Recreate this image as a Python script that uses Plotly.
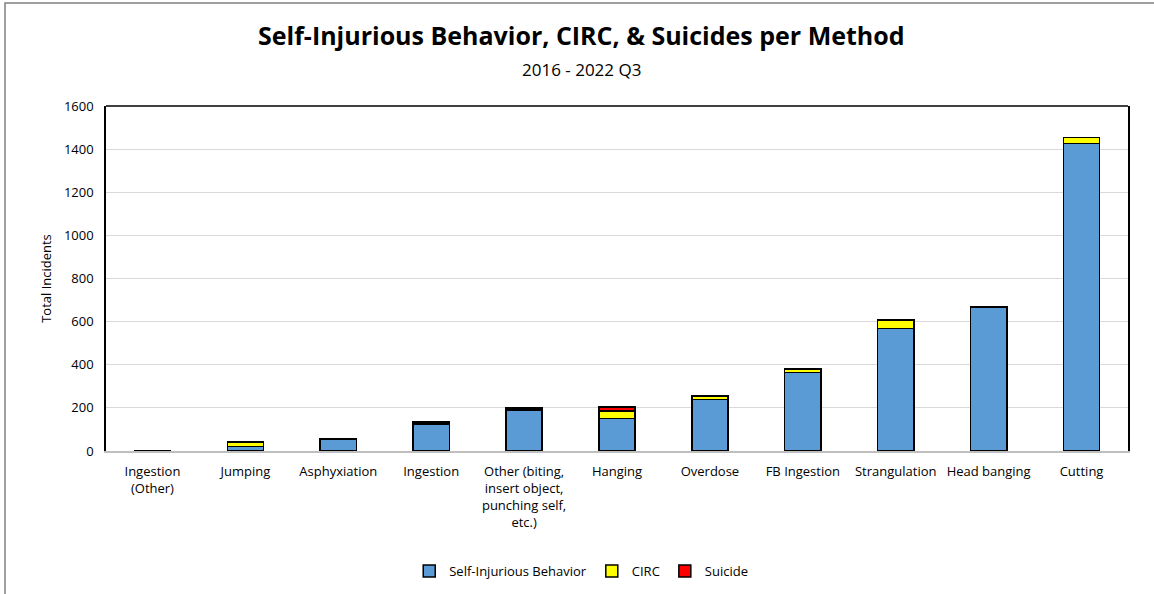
import plotly.graph_objects as go

categories = ["Ingestion<br>(Other)", "Jumping", "Asphyxiation", "Ingestion",
              "Other (biting,<br>insert object,<br>punching self,<br>etc.)", "Hanging",
              "Overdose", "FB Ingestion", "Strangulation", "Head banging", "Cutting"]
sib = [3, 20, 55, 125, 190, 150, 240, 365, 567, 665, 1425]
circ = [0, 22, 1, 8, 8, 35, 12, 15, 40, 3, 30]
suicide = [0, 0, 0, 1, 2, 19, 3, 0, 0, 0, 0]

series = [("Self-Injurious Behavior", sib, "#5b9bd5"),
          ("CIRC", circ, "#ffff00"),
          ("Suicide", suicide, "#ff0000")]

fig = go.Figure()
for name, vals, color in series:
    fig.add_trace(go.Bar(x=categories, y=vals, name=name, width=0.39,
                         marker=dict(color=color, line=dict(color="#000000", width=1.5))))

font = "Open Sans, Liberation Sans, sans-serif"
fig.update_layout(
    width=1154, height=594,
    barmode="stack",
    plot_bgcolor="white", paper_bgcolor="white",
    margin=dict(l=106, r=26, t=106, b=143, autoexpand=False),
    font=dict(family=font, size=13, color="#000000"),
    showlegend=True,
    legend=dict(orientation="h", x=0.465, xanchor="center", y=-0.348, yanchor="middle",
                font=dict(size=13), traceorder="normal", itemwidth=30),
    xaxis=dict(showline=True, linecolor="#bfbfbf", linewidth=1.5, mirror=False,
               ticks="", tickfont=dict(size=13), ticklabelstandoff=8),
    yaxis=dict(range=[0, 1600], dtick=200, showgrid=True, gridcolor="#d9d9d9", gridwidth=1,
               showline=True, linecolor="#000000", linewidth=1.5, mirror=True,
               ticks="", tickfont=dict(size=13), zeroline=False, ticklabelstandoff=8,
               title=dict(text="Total Incidents", font=dict(size=13), standoff=9)),
    annotations=[
        dict(text="<b>Self-Injurious Behavior, CIRC, &amp; Suicides per Method</b>",
             xref="paper", yref="paper", x=0.465, y=1.0 + (106 - 35) / 345, xanchor="center",
             yanchor="middle", showarrow=False, font=dict(size=25, family=font)),
        dict(text="2016 - 2022 Q3", xref="paper", yref="paper", x=0.465, y=1.0 + (106 - 70) / 345,
             xanchor="center", yanchor="middle", showarrow=False, font=dict(size=17, family=font)),
    ],
    shapes=[
        dict(type="line", xref="paper", yref="paper", x0=0, x1=1, y0=1, y1=1,
             line=dict(color="#000000", width=1.5)),
        dict(type="rect", xref="paper", yref="paper",
             x0=(5 - 106) / 1022, x1=(1160 - 106) / 1022,
             y0=(451 - 600) / 345, y1=(451 - 3) / 345,
             line=dict(color="#808080", width=1.5), layer="below"),
    ],
)

fig.write_html("out.html")
